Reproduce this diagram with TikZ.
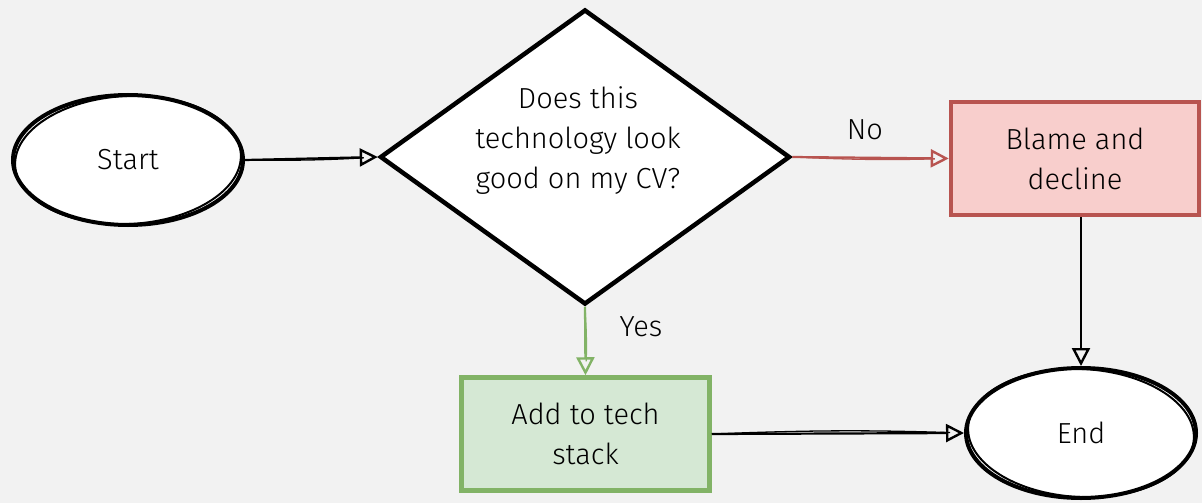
\documentclass[tikz,border=0pt]{standalone}
\usepackage{fontspec}
\setmainfont{Fira Sans Light}
\usetikzlibrary{shapes.geometric,arrows.meta}

\definecolor{canvas}{HTML}{F2F2F2}
\definecolor{redline}{HTML}{B85450}
\definecolor{redfill}{HTML}{F8CECC}
\definecolor{greenline}{HTML}{82B366}
\definecolor{greenfill}{HTML}{D5E8D4}

\tikzset{
  txt/.style={font=\fontsize{29}{40}\selectfont, text=black, align=center},
  terminal/.style={ellipse, draw=black, fill=white, line width=4pt,
    minimum width=230pt, minimum height=130pt, inner sep=0pt, txt},
  decision/.style={diamond, draw=black, fill=white, line width=4.5pt,
    minimum width=410pt, minimum height=295pt, aspect=1.39, inner sep=0pt},
  process/.style={rectangle, line width=4.5pt, minimum width=248pt,
    minimum height=113pt, inner sep=0pt, txt},
  ghost/.style={draw=black, line width=2pt},
  tip/.style={-{Triangle[open,length=18pt,width=18pt,line width=2.4pt]}},
  conn/.style={line width=2.2pt, tip},
  wisp/.style={line width=1.3pt, shorten >=14pt},
}

\begin{document}
\begin{tikzpicture}[x=1pt,y=-1pt]
  % page background and fixed frame
  \fill[canvas] (0,0) rectangle (1202,503);
  \useasboundingbox (0,0) rectangle (1202,503);

  % shapes
  \node[terminal] (start) at (128,160) {Start};
  \draw[ghost] (start.center) ellipse [x radius=113, y radius=64, rotate=3];

  \node[decision] (dia) at (585,157) {};
  \node[txt] (qtext) at (578,141) {Does this\\technology look\\good on my CV?};

  \node[process, draw=redline, fill=redfill] (blame) at (1075,158.5) {Blame and\\decline};

  \node[process, draw=greenline, fill=greenfill] (add) at (585.5,434) {Add to tech\\stack};

  \node[terminal] (end) at (1081,433) {End};
  \draw[ghost] (end.center) ellipse [x radius=113, y radius=64, rotate=-3];

  % connectors
  \draw[conn] (start.east) -- (dia.west);
  \draw[wisp] (start.east) to[bend right=2] (dia.west);

  \draw[conn, redline] (dia.east) -- (blame.west);
  \draw[wisp, redline] (dia.east) to[bend right=2] (blame.west);
  \node[txt] (nolbl) at (865,130) {No};

  \draw[conn, greenline] (dia.south) -- (add.north);
  \draw[wisp, greenline] (dia.south) to[bend left=3] (add.north);
  \node[txt] (yeslbl) at (641,327) {Yes};

  \draw[conn] (blame.south -| end.north) -- (end.north);

  \draw[conn] (add.east) -- (end.west);
  \draw[wisp] (add.east) to[bend left=2] (end.west);
\end{tikzpicture}
\end{document}
